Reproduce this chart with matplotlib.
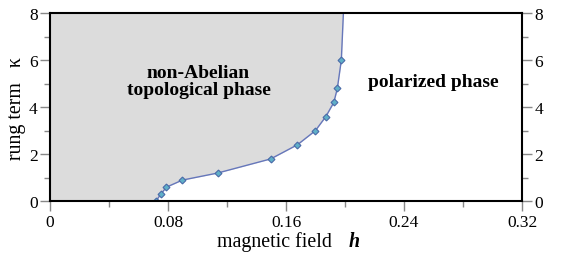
import matplotlib
matplotlib.use("Agg")
import matplotlib.pyplot as plt
from matplotlib.ticker import MultipleLocator

# data: phase boundary points (magnetic field h, rung term kappa)
h_pts = [0.0717, 0.0751, 0.0789, 0.0897, 0.1136, 0.1496, 0.1677, 0.1799, 0.1870, 0.1924, 0.1948, 0.1975]
k_pts = [0.0, 0.3, 0.6, 0.9, 1.2, 1.8, 2.4, 3.0, 3.6, 4.2, 4.8, 6.0]
# boundary continues to top of plot
h_line = h_pts + [0.1989]
k_line = k_pts + [8.0]

xticks = [0, 0.08, 0.16, 0.24, 0.32]
xticklabels = ["0", "0.08", "0.16", "0.24", "0.32"]
yticks = [0, 2, 4, 6, 8]

plt.rcParams['font.family'] = ['Liberation Serif', 'DejaVu Serif']

fig = plt.figure(figsize=(5.67, 2.55), dpi=100)
ax = fig.add_axes([0.0882, 0.2067, 0.8325, 0.7384])

ax.fill_betweenx(k_line, 0, h_line, color='#dcdcdc', lw=0)
ax.plot(h_line, k_line, color='#6677bb', lw=1.0)
ax.plot(h_pts, k_pts, ls='none', marker='D', ms=3.5, mfc='#5fb0c8', mec='#4a6aa8', mew=0.8)

ax.set_xlim(0, 0.32)
ax.set_ylim(0, 8)
ax.set_xticks(xticks)
ax.set_xticklabels(xticklabels)
ax.set_yticks(yticks)
ax.xaxis.set_minor_locator(MultipleLocator(0.04))
ax.yaxis.set_minor_locator(MultipleLocator(1))

ax.tick_params(axis='both', which='both', direction='out', color='#888888', labelsize=12.5)
ax.tick_params(axis='both', which='major', length=7, width=1.0)
ax.tick_params(axis='both', which='minor', length=4.5, width=1.0)
ax.tick_params(axis='y', which='both', left=True, right=True, labelleft=True, labelright=True, pad=2)
ax.tick_params(axis='x', which='both', pad=2)

for s in ax.spines.values():
    s.set_linewidth(1.5)
    s.set_color('black')

fig.text(0.585, 0.01, 'magnetic field', fontsize=14.3, ha='right', va='bottom')
fig.text(0.614, 0.01, 'h', fontsize=14.3, ha='left', va='bottom', fontweight='bold', fontstyle='italic')
ax.set_ylabel('rung term   κ', fontsize=14.3, labelpad=2)

ax.text(0.1007, 5.1, 'non-Abelian\ntopological phase', fontsize=14, fontweight='bold',
        ha='center', va='center', linespacing=1.0)
ax.text(0.260, 5.1, 'polarized phase', fontsize=14, fontweight='bold', ha='center', va='center')

fig.savefig('out.png', dpi=100)
